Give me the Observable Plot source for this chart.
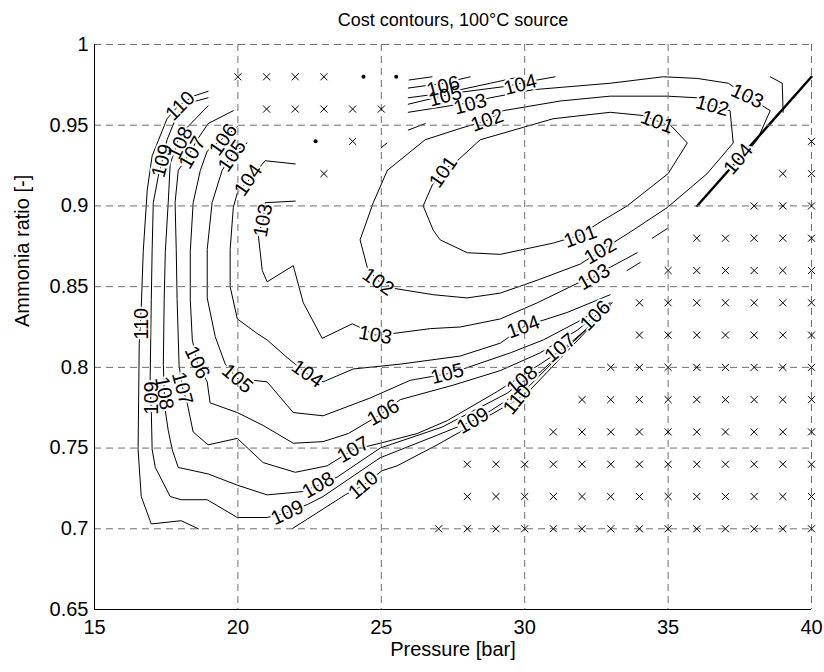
<!DOCTYPE html>
<html><head><meta charset="utf-8">
<script src="https://cdn.jsdelivr.net/npm/d3@7"></script>
<script src="https://cdn.jsdelivr.net/npm/@observablehq/plot@0.6"></script>
<style>body{margin:0;background:#fff}</style>
</head><body><div id="chart"></div>
<script>
const titleText = "Cost contours, 100°C source";
const xLabel = "Pressure [bar]";
const yLabel = "Ammonia ratio [-]";
const xTicks = [15, 20, 25, 30, 35, 40];
const yTicks = [0.65, 0.7, 0.75, 0.8, 0.85, 0.9, 0.95, 1];

// contour polylines [pressure, ammonia ratio]
const c101 = [[26.46,0.900],[26.78,0.913],[27.23,0.923],[27.65,0.928],[28.45,0.941],[30.99,0.954],[32.98,0.958],[34.13,0.956],[35.14,0.949],[35.67,0.939],[35.00,0.920],[33.57,0.900],[32.63,0.890],[31.94,0.882],[31.00,0.877],[29.15,0.870],[28.00,0.871],[27.05,0.879],[26.81,0.885],[26.46,0.900]];
const c102 = [[25.21,0.922],[26.53,0.941],[27.75,0.948],[28.69,0.953],[29.25,0.959],[31.24,0.965],[32.98,0.968],[34.97,0.968],[36.01,0.967],[36.54,0.962],[37.16,0.959],[37.27,0.939],[36.36,0.920],[34.97,0.899],[33.78,0.885],[32.63,0.872],[31.94,0.864],[30.44,0.854],[29.15,0.846],[27.99,0.843],[26.81,0.845],[25.42,0.849],[24.86,0.854],[24.51,0.862],[24.26,0.879],[24.72,0.902],[25.21,0.922]];
const c103a = [[22.00,0.903],[20.95,0.902],[20.88,0.891],[20.71,0.882],[20.85,0.860],[21.02,0.853],[21.93,0.863],[22.28,0.840],[22.94,0.818],[23.99,0.827],[24.79,0.820],[25.42,0.821],[26.71,0.824],[27.75,0.825],[29.15,0.830],[30.44,0.840],[31.83,0.852],[32.42,0.856],[32.98,0.862],[33.92,0.871]];
const c103b = [[25.94,0.958],[28.10,0.964],[28.80,0.967],[30.30,0.972],[32.98,0.976],[34.83,0.980],[36.01,0.979],[37.10,0.976],[37.76,0.968],[38.56,0.959],[38.11,0.941],[37.93,0.937]];
const c103c = [[34.45,0.880],[34.97,0.886]];
const c104a = [[22.00,0.926],[20.95,0.928],[20.43,0.917],[19.98,0.908],[19.84,0.899],[19.73,0.873],[19.73,0.850],[19.98,0.830],[20.67,0.821],[21.02,0.817],[21.72,0.806],[22.42,0.796],[22.97,0.791],[24.02,0.799],[25.66,0.802],[27.75,0.807],[29.15,0.815],[29.95,0.825],[30.61,0.829],[31.48,0.834],[32.98,0.845]];
const c104b = [[25.94,0.963],[27.58,0.970],[29.32,0.974],[30.44,0.978],[31.06,0.980]];
const c104c = [[38.56,0.980],[38.98,0.976],[39.01,0.958]];
const c104d = [[33.57,0.860],[34.03,0.865]];
const c105a = [[20.32,0.939],[19.80,0.932],[19.45,0.922],[19.10,0.902],[18.93,0.873],[18.93,0.843],[19.21,0.819],[19.56,0.802],[19.98,0.793],[20.53,0.792],[21.02,0.791],[21.93,0.772],[22.97,0.770],[24.61,0.781],[26.01,0.792],[27.30,0.796],[27.86,0.799],[29.50,0.809],[30.65,0.817],[31.83,0.828],[32.98,0.840]];
const c105b = [[25.94,0.967],[27.23,0.970],[28.80,0.976],[29.84,0.980]];
const c106a = [[19.98,0.949],[19.49,0.942],[18.93,0.934],[18.69,0.922],[18.44,0.902],[18.34,0.872],[18.34,0.842],[18.41,0.817],[18.58,0.803],[18.93,0.791],[19.03,0.778],[19.98,0.772],[20.88,0.764],[21.93,0.753],[22.97,0.754],[23.85,0.759],[24.61,0.767],[25.07,0.772],[25.66,0.780],[27.51,0.789],[29.15,0.798],[30.54,0.809],[31.83,0.823],[32.46,0.832],[33.05,0.840]];
const c106b = [[25.94,0.973],[27.16,0.976],[28.10,0.980]];
const c107a = [[19.84,0.959],[18.96,0.951],[18.58,0.941],[18.34,0.933],[17.92,0.922],[17.81,0.902],[17.85,0.873],[17.88,0.842],[17.95,0.801],[18.06,0.788],[18.23,0.778],[18.44,0.760],[18.96,0.752],[19.98,0.756],[20.88,0.741],[22.00,0.735],[23.11,0.739],[24.02,0.749],[24.96,0.753],[26.25,0.759],[27.30,0.767],[29.04,0.785],[30.54,0.802],[31.31,0.811],[32.11,0.823],[32.98,0.838]];
const c107b = [[25.97,0.978],[26.77,0.980]];
const c108 = [[18.96,0.962],[18.09,0.946],[17.92,0.941],[17.64,0.926],[17.57,0.902],[17.47,0.872],[17.43,0.842],[17.40,0.802],[17.43,0.785],[17.47,0.773],[17.57,0.761],[17.71,0.749],[17.92,0.738],[18.96,0.734],[19.98,0.727],[21.02,0.721],[22.24,0.723],[22.80,0.727],[23.46,0.732],[24.96,0.750],[27.12,0.763],[29.39,0.784],[29.91,0.791],[30.54,0.797],[31.76,0.817],[32.98,0.838]];
const c109 = [[18.96,0.967],[18.34,0.964],[17.92,0.958],[17.53,0.941],[17.36,0.928],[17.22,0.918],[17.05,0.902],[17.01,0.873],[16.98,0.842],[16.94,0.792],[16.98,0.773],[17.01,0.749],[17.12,0.738],[17.64,0.720],[18.02,0.718],[18.93,0.718],[19.98,0.707],[21.02,0.707],[21.72,0.710],[22.42,0.715],[22.97,0.720],[24.96,0.744],[26.95,0.758],[28.20,0.767],[28.80,0.773],[30.19,0.789],[31.59,0.814],[32.98,0.838]];
const c110a = [[18.96,0.971],[18.44,0.968],[17.92,0.962],[17.53,0.954],[17.01,0.931],[16.84,0.910],[16.70,0.872],[16.63,0.837],[16.56,0.815],[16.52,0.749],[16.63,0.720],[16.98,0.703],[18.02,0.705],[18.62,0.700]];
const c110b = [[21.89,0.700],[23.74,0.721],[24.37,0.727],[25.03,0.736],[25.55,0.739],[26.95,0.752],[28.45,0.767],[29.74,0.780],[30.19,0.786],[31.59,0.812],[32.98,0.838]];
const frag1 = [[24.99,0.936],[25.20,0.939]];
const frag2 = [[25.94,0.947],[26.53,0.951]];
const boundary = [[36.01,0.900],[40.0,0.980]];

// contour labels: [text, pressure, ratio, angle]
const contourLabels = [
  ["110",17.99,0.962,-45],["109",17.36,0.928,-75],["108",17.99,0.939,-65],["107",18.41,0.933,-60],
  ["106",19.49,0.941,-55],["105",19.80,0.931,-55],["104",20.36,0.916,-55],["103",20.88,0.891,-80],
  ["110",16.63,0.827,-90],["109",16.98,0.781,-90],["108",17.43,0.784,80],["107",18.06,0.787,75],
  ["106",18.58,0.803,65],["105",19.98,0.793,40],["104",22.42,0.796,35],["103",24.79,0.820,10],
  ["102",24.89,0.853,35],["106",25.07,0.772,-30],["107",24.02,0.749,-30],["108",22.80,0.727,-30],
  ["109",21.72,0.710,-25],["110",24.37,0.727,-40],["105",27.30,0.796,-15],["104",29.95,0.825,-20],
  ["103",32.42,0.856,-30],["102",32.63,0.872,-30],["101",31.94,0.881,-20],["106",32.46,0.832,-45],
  ["107",31.24,0.812,-40],["108",29.91,0.792,-40],["109",28.20,0.767,-30],["110",29.74,0.780,-50],
  ["106",27.16,0.974,-15],["105",27.23,0.968,-15],["104",29.84,0.975,-15],["103",28.10,0.963,-15],
  ["102",28.69,0.953,-20],["101",27.16,0.921,-55],["101",34.62,0.952,20],["102",36.54,0.962,15],
  ["103",37.76,0.968,25],["104",37.45,0.929,-50]
];

// infeasible points (× markers): [ratio, first pressure, last pressure]
const crossRows = [[0.70,27,40],[0.72,28,40],[0.74,28,40],[0.76,31,40],[0.78,32,40],[0.80,33,40],[0.82,34,40],[0.84,34,40],[0.86,35,40],[0.88,36,40],[0.90,38,40],[0.92,39,40],[0.94,40,40]];
const crossExtra = [[20,0.98],[21,0.98],[22,0.98],[23,0.98],[21,0.96],[22,0.96],[23,0.96],[24,0.96],[25,0.96],[24,0.94],[23,0.92]];
const dotPoints = [[24.38,0.98],[25.52,0.98],[22.71,0.94]];

const lines = [c101,c102,c103a,c103b,c103c,c104a,c104b,c104c,c104d,c105a,c105b,c106a,c106b,c107a,c107b,c108,c109,c110a,c110b,frag1,frag2];
const lineRows = lines.flatMap((l, i) => l.map(([x, y]) => ({x, y, seg: i})));
const boundaryRows = boundary.map(([x, y]) => ({x, y}));
const labelRows = contourLabels.map(([t, x, y, a]) => ({t, x, y, a}));
const crosses = crossRows.flatMap(([y, a, b]) => d3.range(a, b + 1).map(x => ({x, y}))).concat(crossExtra.map(([x, y]) => ({x, y})));
const dots = dotPoints.map(([x, y]) => ({x, y}));

const font = "Liberation Sans, Arial, Helvetica, sans-serif";
const gridStyle = {stroke: "#6e6e6e", strokeDasharray: "7,5", strokeWidth: 1};

const chart = Plot.plot({
  width: 824, height: 672,
  marginLeft: 94, marginRight: 13, marginTop: 44, marginBottom: 63,
  style: {fontFamily: font, fontSize: "20px", background: "white", color: "black"},
  x: {domain: [15, 40], ticks: xTicks, tickSize: 0, tickPadding: 10, label: null},
  y: {domain: [0.65, 1], ticks: yTicks, tickSize: 0, tickPadding: 6, label: null, tickFormat: d => String(+d.toFixed(2))},
  marks: [
    Plot.line(lineRows, {x: "x", y: "y", z: "seg", stroke: "black", strokeWidth: 1}),
    Plot.line(boundaryRows, {x: "x", y: "y", stroke: "black", strokeWidth: 2.4}),
    Plot.text(labelRows, {x: "x", y: "y", text: "t", rotate: "a", fontSize: 20, fontFamily: font, fill: "white", stroke: "white", strokeWidth: 4}),
    Plot.ruleX(xTicks, gridStyle),
    Plot.ruleY(yTicks, gridStyle),
    Plot.text(labelRows, {x: "x", y: "y", text: "t", rotate: "a", fontSize: 20, fontFamily: font, fill: "black"}),
    Plot.dot(crosses, {x: "x", y: "y", symbol: "times", r: 3.3, stroke: "black", strokeWidth: 1}),
    Plot.dot(dots, {x: "x", y: "y", r: 2, fill: "black", stroke: "none"}),
    Plot.ruleX([15], {stroke: "black", strokeWidth: 1}),
    Plot.ruleY([0.65], {stroke: "black", strokeWidth: 1}),
    Plot.text([titleText], {frameAnchor: "top", dy: -31, fontSize: 18, fontFamily: font, fill: "black"}),
    Plot.text([xLabel], {frameAnchor: "bottom", dy: 46, fontSize: 20, fontFamily: font, fill: "black"}),
    Plot.text([yLabel], {frameAnchor: "left", dx: -72, rotate: -90, fontSize: 20, fontFamily: font, fill: "black"})
  ]
});
document.getElementById("chart").appendChild(chart);
</script>
</body></html>
